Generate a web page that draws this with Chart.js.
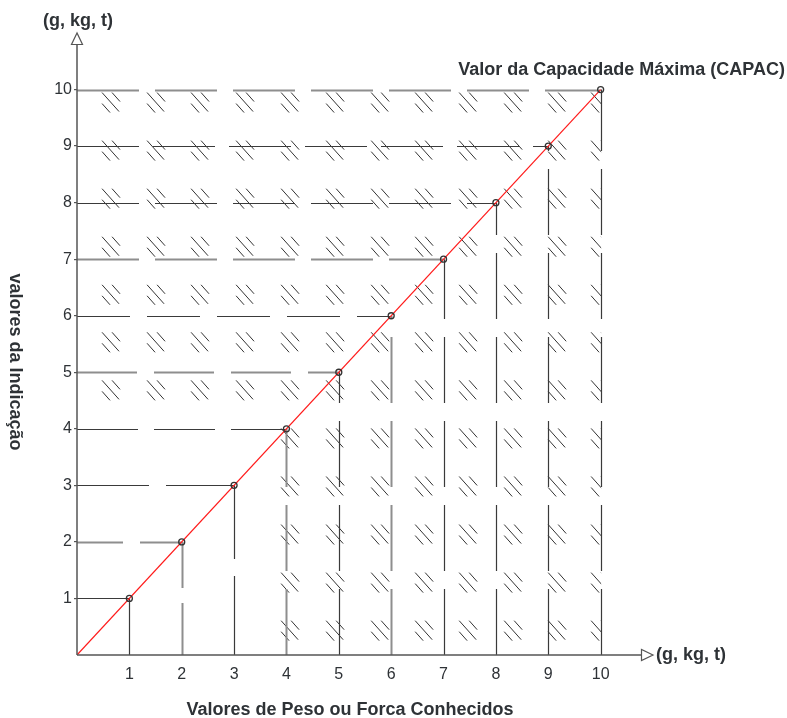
<!DOCTYPE html>
<html>
<head>
<meta charset="utf-8">
<script src="https://cdn.jsdelivr.net/npm/chart.js@4.4.0/dist/chart.umd.min.js"></script>
<style>
html,body{margin:0;padding:0;background:#fff;}
canvas{display:block;}
</style>
</head>
<body>
<canvas id="c" width="787" height="718"></canvas>
<script>
// ---- data ----
const xTickValues = [1, 2, 3, 4, 5, 6, 7, 8, 9, 10];
const yTickValues = [1, 2, 3, 4, 5, 6, 7, 8, 9, 10];
const knownValues = [1, 2, 3, 4, 5, 6, 7, 8, 9, 10];      // Valores de Peso ou Forca Conhecidos
const indicatedValues = [1, 2, 3, 4, 5, 6, 7, 8, 9, 10];  // valores da Indicação
const idealLineX = [0, 10];
const idealLineY = [0, 10];
// decorative hatch grid (data units)
const hatchCols = [0.65, 1.51, 2.35, 3.21, 4.07, 4.93, 5.79, 6.63, 7.47, 8.33, 9.17, 9.99];
const hatchRows = [9.77, 8.92, 8.07, 7.22, 6.37, 5.53, 4.68, 3.83, 2.98, 2.13, 1.28, 0.43];
const hatchGapX = 4;    // hatch missing where x < hatchGapX ...
const hatchGapY = 4.5;  // ... and y < hatchGapY

// ---- styles ----
const DARK = '#3a3a3a', GRAY = '#8e8e8e', TEXT = '#2e3236';
const hStyle = {
  1: {c: DARK, w: 1.2, d: []},
  2: {c: GRAY, w: 2, d: [46, 17]},
  3: {c: DARK, w: 1.2, d: [72, 17]},
  4: {c: DARK, w: 1.2, d: [61, 16]},
  5: {c: GRAY, w: 2, d: [60, 17]},
  6: {c: DARK, w: 1.2, d: [53, 17]},
  7: {c: GRAY, w: 2, d: [62, 16]},
  8: {c: DARK, w: 1.2, d: [62, 16]},
  9: {c: DARK, w: 1.2, d: [62, 14]},
  10: {c: GRAY, w: 2, d: [62, 16]}
};
const vStyle = {
  1: {c: DARK, w: 1.2, d: []},
  2: {c: GRAY, w: 2, d: [52, 15]},
  3: {c: DARK, w: 1.2, d: [79, 17]},
  4: {c: GRAY, w: 2, d: [66, 18]},
  5: {c: DARK, w: 1.2, d: [66, 18]},
  6: {c: GRAY, w: 2, d: [66, 18]},
  7: {c: DARK, w: 1.2, d: [66, 18]},
  8: {c: DARK, w: 1.2, d: [66, 18]},
  9: {c: DARK, w: 1.2, d: [66, 18]},
  10: {c: DARK, w: 1.2, d: [66, 18]}
};

const FONT = '"Liberation Sans", Arial, Helvetica, sans-serif';

const decor = {
  id: 'decor',
  beforeDatasetsDraw(chart) {
    const {ctx, scales: {x, y}} = chart;
    // hatches
    ctx.save();
    ctx.beginPath();
    ctx.rect(x.getPixelForValue(0), y.getPixelForValue(10), x.getPixelForValue(10) - x.getPixelForValue(0) + 0.5, y.getPixelForValue(0) - y.getPixelForValue(10));
    ctx.clip();
    ctx.strokeStyle = '#333';
    ctx.lineWidth = 1;
    hatchRows.forEach(r => {
      hatchCols.forEach(cv => {
        if (cv < hatchGapX && r < hatchGapY) return;
        const px = x.getPixelForValue(cv), py = y.getPixelForValue(r);
        ctx.beginPath();
        ctx.moveTo(px - 9, py - 10); ctx.lineTo(px + 8, py + 9);
        ctx.moveTo(px + 1, py - 10); ctx.lineTo(px + 9, py - 1);
        ctx.moveTo(px - 9, py + 1); ctx.lineTo(px - 1, py + 10);
        ctx.stroke();
      });
    });
    ctx.restore();
    // guide lines
    ctx.save();
    knownValues.forEach((kv, i) => {
      const iv = indicatedValues[i];
      const hs = hStyle[iv];
      ctx.strokeStyle = hs.c; ctx.lineWidth = hs.w; ctx.setLineDash(hs.d);
      ctx.beginPath();
      ctx.moveTo(x.getPixelForValue(0), Math.round(y.getPixelForValue(iv)) + 0.5);
      ctx.lineTo(x.getPixelForValue(kv), Math.round(y.getPixelForValue(iv)) + 0.5);
      ctx.stroke();
      const vs = vStyle[kv];
      ctx.strokeStyle = vs.c; ctx.lineWidth = vs.w; ctx.setLineDash(vs.d);
      ctx.beginPath();
      ctx.moveTo(Math.round(x.getPixelForValue(kv)) + 0.5, y.getPixelForValue(0));
      ctx.lineTo(Math.round(x.getPixelForValue(kv)) + 0.5, y.getPixelForValue(iv));
      ctx.stroke();
    });
    ctx.restore();
  },
  afterDraw(chart) {
    const {ctx, scales: {x, y}} = chart;
    const ox = x.getPixelForValue(0), oy = y.getPixelForValue(0);
    const tx = x.getPixelForValue(11), ty = y.getPixelForValue(11);
    ctx.save();
    ctx.strokeStyle = '#555'; ctx.lineWidth = 1.5; ctx.setLineDash([]);
    ctx.beginPath();
    ctx.moveTo(ox, oy); ctx.lineTo(ox, ty + 11);
    ctx.moveTo(ox, oy); ctx.lineTo(tx - 11, oy);
    ctx.stroke();
    ctx.fillStyle = '#fff'; ctx.lineWidth = 1.2;
    ctx.beginPath();
    ctx.moveTo(ox, ty); ctx.lineTo(ox - 5.5, ty + 11.5); ctx.lineTo(ox + 5.5, ty + 11.5); ctx.closePath();
    ctx.fill(); ctx.stroke();
    ctx.beginPath();
    ctx.moveTo(tx, oy); ctx.lineTo(tx - 11.5, oy - 5.5); ctx.lineTo(tx - 11.5, oy + 5.5); ctx.closePath();
    ctx.fill(); ctx.stroke();
    // texts
    ctx.fillStyle = TEXT;
    ctx.font = 'bold 18px ' + FONT;
    ctx.textBaseline = 'middle';
    ctx.textAlign = 'center';
    ctx.fillText('(g, kg, t)', ox + 1, 21);
    ctx.textAlign = 'left';
    ctx.fillText('(g, kg, t)', tx + 3, oy);
    ctx.textAlign = 'right';
    ctx.fillText('Valor da Capacidade Máxima (CAPAC)', 785, 70);
    ctx.textAlign = 'center';
    ctx.fillText('Valores de Peso ou Forca Conhecidos', 350, 710);
    ctx.translate(15, 362);
    ctx.rotate(Math.PI / 2);
    ctx.fillText('valores da Indicação', 0, 0);
    ctx.restore();
  }
};

new Chart(document.getElementById('c'), {
  type: 'scatter',
  data: {
    datasets: [
      {
        data: idealLineX.map((v, i) => ({x: v, y: idealLineY[i]})),
        showLine: true,
        borderColor: '#ff1a1a',
        borderWidth: 1.2,
        pointRadius: 0,
        order: 2
      },
      {
        data: knownValues.map((v, i) => ({x: v, y: indicatedValues[i]})),
        showLine: false,
        pointRadius: 3,
        pointBorderWidth: 1.3,
        pointBorderColor: '#333',
        pointBackgroundColor: 'rgba(255,255,255,0)',
        order: 1
      }
    ]
  },
  options: {
    responsive: false,
    animation: false,
    devicePixelRatio: 1,
    layout: {padding: {left: 0, top: 33, right: 134, bottom: 0}},
    plugins: {legend: {display: false}, tooltip: {enabled: false}},
    scales: {
      x: {
        type: 'linear', min: 0, max: 11,
        afterBuildTicks: s => { s.ticks = xTickValues.map(v => ({value: v})); },
        afterFit: s => { s.height = 63; },
        grid: {display: false, drawTicks: false, tickLength: 0},
        border: {display: false},
        ticks: {color: TEXT, font: {family: FONT, size: 16}, padding: 10, maxRotation: 0, autoSkip: false}
      },
      y: {
        type: 'linear', min: 0, max: 11,
        afterBuildTicks: s => { s.ticks = yTickValues.map(v => ({value: v})); },
        afterFit: s => { s.width = 77; },
        grid: {display: true, drawOnChartArea: false, drawTicks: true, tickLength: 3, color: '#555', lineWidth: 1.2},
        border: {display: false},
        ticks: {color: TEXT, font: {family: FONT, size: 16}, padding: 2, autoSkip: false}
      }
    }
  },
  plugins: [decor]
});
</script>
</body>
</html>
